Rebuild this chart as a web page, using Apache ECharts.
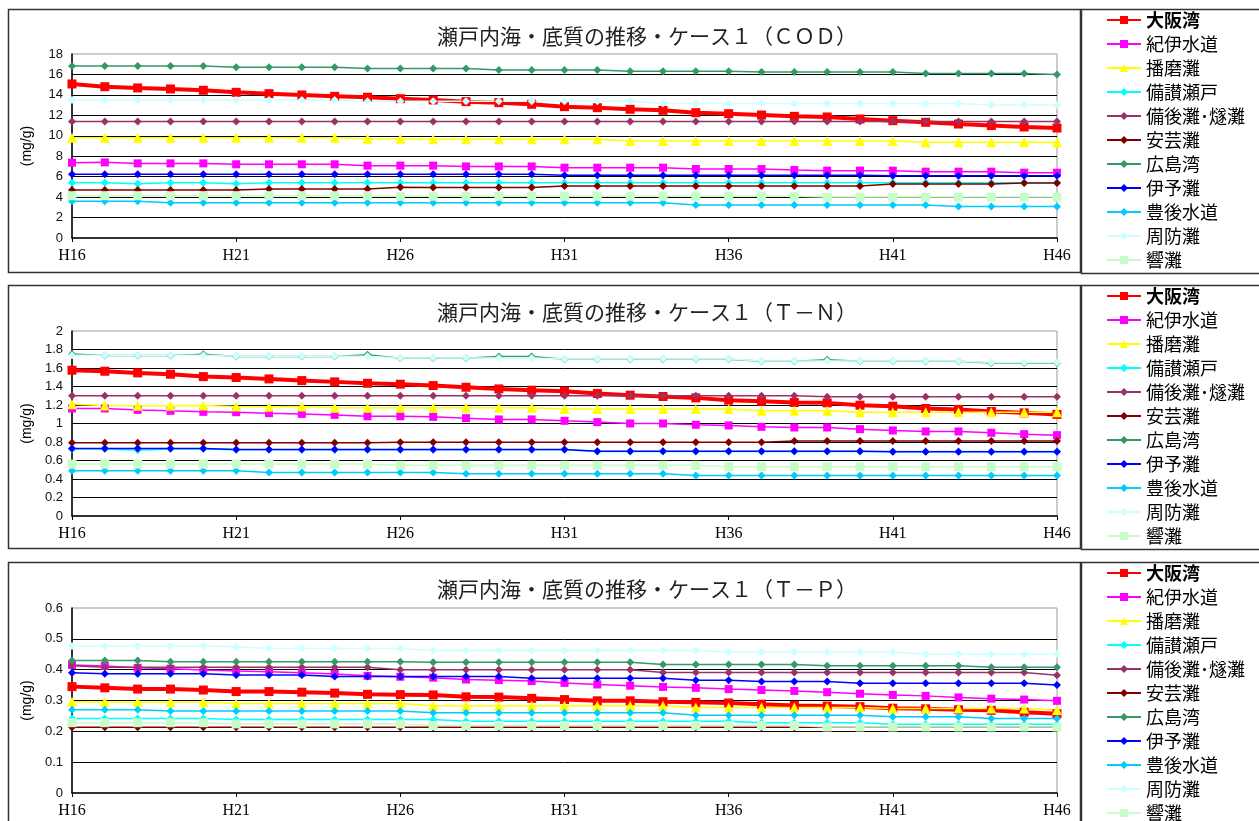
<!DOCTYPE html>
<html>
<head>
<meta charset="utf-8">
<script src="https://cdn.jsdelivr.net/npm/echarts@6/dist/echarts.min.js"></script>
<style>
html, body { margin: 0; padding: 0; background: #fff; }
#chart { width: 1259px; height: 821px; }
</style>
</head>
<body>
<div id="chart"></div>
<script>
// categories (H16 .. H46)
const years = ['H16','H17','H18','H19','H20','H21','H22','H23','H24','H25','H26','H27','H28','H29','H30','H31',
  'H32','H33','H34','H35','H36','H37','H38','H39','H40','H41','H42','H43','H44','H45','H46']

const areaNames = ['大阪湾', '紀伊水道', '播磨灘', '備讃瀬戸', '備後灘･燧灘', '安芸灘', '広島湾', '伊予灘', '豊後水道', '周防灘', '響灘']

// COD (mg/g)
const codOsaka = [15.07,14.8,14.68,14.58,14.45,14.25,14.12,13.99,13.86,13.77,13.63,13.5,13.34,13.24,13.08,12.85,12.75,12.59,12.49,12.26,12.16,12.03,11.9,11.84,11.64,11.48,11.32,11.15,11.0,10.86,10.76]
const codKii = [7.37,7.4,7.3,7.3,7.3,7.21,7.21,7.21,7.21,7.08,7.08,7.08,7.0,7.0,7.0,6.88,6.88,6.88,6.88,6.75,6.75,6.75,6.65,6.59,6.59,6.59,6.49,6.49,6.49,6.39,6.39]
const codHarima = [9.8,9.8,9.8,9.8,9.8,9.8,9.8,9.8,9.8,9.72,9.72,9.66,9.66,9.66,9.66,9.66,9.66,9.48,9.48,9.48,9.48,9.48,9.48,9.48,9.48,9.48,9.36,9.36,9.36,9.36,9.36]
const codBisan = [5.4,5.4,5.3,5.4,5.4,5.3,5.4,5.4,5.4,5.4,5.4,5.4,5.4,5.4,5.4,5.4,5.4,5.4,5.4,5.4,5.4,5.4,5.4,5.4,5.4,5.4,5.4,5.4,5.4,5.4,5.4]
const codBingo = [11.4,11.4,11.4,11.4,11.4,11.4,11.4,11.4,11.4,11.4,11.4,11.4,11.4,11.4,11.4,11.4,11.4,11.4,11.4,11.4,11.4,11.4,11.4,11.4,11.4,11.4,11.4,11.4,11.4,11.4,11.4]
const codAki = [4.7,4.7,4.7,4.7,4.7,4.7,4.79,4.79,4.79,4.79,4.96,4.93,4.93,4.93,4.93,5.09,5.09,5.09,5.09,5.09,5.09,5.09,5.09,5.09,5.09,5.28,5.28,5.28,5.28,5.38,5.38]
const codHiroshima = [16.83,16.83,16.83,16.83,16.83,16.7,16.7,16.7,16.7,16.57,16.57,16.57,16.57,16.44,16.44,16.44,16.44,16.31,16.31,16.31,16.31,16.24,16.24,16.24,16.24,16.24,16.1,16.1,16.1,16.1,16.0]
const codIyo = [6.23,6.23,6.23,6.23,6.23,6.23,6.23,6.23,6.23,6.23,6.23,6.23,6.23,6.23,6.23,6.15,6.15,6.15,6.15,6.15,6.15,6.15,6.15,6.15,6.15,6.1,6.1,6.1,6.1,6.1,6.1]
const codBungo = [3.59,3.59,3.59,3.45,3.45,3.45,3.45,3.45,3.45,3.45,3.45,3.45,3.45,3.45,3.45,3.45,3.45,3.45,3.45,3.22,3.22,3.22,3.22,3.22,3.22,3.22,3.22,3.07,3.07,3.07,3.07]
const codSuo = [13.5,13.5,13.5,13.5,13.5,13.5,13.5,13.5,13.5,13.37,13.37,13.37,13.37,13.37,13.37,13.37,13.37,13.37,13.15,13.15,13.15,13.15,13.15,13.15,13.15,13.15,13.15,13.15,13.02,13.02,13.02]
const codHibiki = [4.14,4.14,4.14,4.14,4.14,4.14,4.14,4.14,4.14,4.14,4.08,4.08,4.08,4.08,4.08,4.08,4.08,4.08,4.08,4.08,4.08,4.08,4.08,4.0,4.0,4.0,4.0,4.0,4.0,4.0,4.0]

// T-N (mg/g)
const tnOsaka = [1.576,1.565,1.547,1.533,1.507,1.497,1.482,1.464,1.45,1.435,1.425,1.41,1.392,1.374,1.36,1.349,1.324,1.306,1.292,1.277,1.252,1.241,1.227,1.223,1.198,1.187,1.162,1.152,1.13,1.115,1.098]
const tnKii = [1.162,1.162,1.147,1.137,1.126,1.122,1.112,1.104,1.093,1.079,1.079,1.072,1.058,1.044,1.044,1.029,1.015,1.0,1.0,0.986,0.979,0.964,0.957,0.957,0.939,0.925,0.914,0.914,0.9,0.885,0.874]
const tnHarima = [1.209,1.195,1.191,1.191,1.195,1.184,1.18,1.184,1.169,1.169,1.169,1.169,1.169,1.169,1.169,1.158,1.158,1.158,1.158,1.158,1.158,1.137,1.137,1.137,1.122,1.122,1.122,1.122,1.122,1.122,1.122]
const tnBisan = [0.725,0.725,0.712,0.725,0.725,0.715,0.715,0.715,0.715,0.715,0.715,0.715,0.715,0.715,0.715,0.715,0.697,0.697,0.697,0.697,0.697,0.697,0.697,0.697,0.697,0.697,0.697,0.697,0.697,0.697,0.697]
const tnBingo = [1.3,1.3,1.3,1.3,1.3,1.3,1.3,1.3,1.3,1.3,1.3,1.3,1.3,1.3,1.3,1.3,1.3,1.3,1.3,1.3,1.3,1.3,1.3,1.29,1.29,1.29,1.29,1.29,1.29,1.29,1.29]
const tnAki = [0.791,0.791,0.791,0.791,0.791,0.791,0.791,0.791,0.791,0.791,0.797,0.797,0.797,0.797,0.797,0.797,0.797,0.797,0.797,0.797,0.797,0.797,0.81,0.81,0.81,0.81,0.81,0.81,0.81,0.81,0.81]
const tnHiroshima = [1.752,1.734,1.734,1.734,1.748,1.723,1.723,1.723,1.723,1.742,1.705,1.705,1.705,1.725,1.725,1.694,1.694,1.694,1.694,1.694,1.694,1.672,1.672,1.69,1.672,1.672,1.672,1.672,1.655,1.655,1.655]
const tnIyo = [0.73,0.73,0.73,0.73,0.73,0.72,0.72,0.72,0.72,0.72,0.72,0.72,0.72,0.72,0.72,0.72,0.701,0.701,0.701,0.701,0.701,0.701,0.701,0.701,0.701,0.694,0.694,0.694,0.694,0.694,0.694]
const tnBungo = [0.489,0.489,0.489,0.489,0.489,0.489,0.47,0.47,0.47,0.47,0.47,0.47,0.457,0.457,0.457,0.457,0.457,0.457,0.457,0.439,0.439,0.439,0.439,0.439,0.439,0.439,0.439,0.439,0.439,0.439,0.439]
const tnSuo = [1.738,1.738,1.738,1.738,1.738,1.727,1.727,1.727,1.727,1.727,1.709,1.709,1.709,1.709,1.709,1.698,1.698,1.698,1.698,1.698,1.698,1.676,1.676,1.676,1.676,1.676,1.676,1.676,1.659,1.659,1.659]
const tnHibiki = [0.561,0.561,0.561,0.561,0.561,0.561,0.561,0.561,0.561,0.561,0.548,0.548,0.548,0.548,0.548,0.548,0.548,0.548,0.548,0.548,0.532,0.532,0.532,0.532,0.532,0.532,0.532,0.532,0.532,0.532,0.532]

// T-P (mg/g)
const tpOsaka = [0.345,0.341,0.337,0.337,0.334,0.329,0.329,0.327,0.324,0.32,0.319,0.318,0.312,0.311,0.307,0.303,0.299,0.299,0.296,0.294,0.292,0.288,0.284,0.282,0.28,0.275,0.273,0.27,0.268,0.262,0.257]
const tpKii = [0.415,0.412,0.406,0.403,0.399,0.396,0.393,0.39,0.386,0.38,0.377,0.374,0.368,0.366,0.363,0.357,0.352,0.348,0.344,0.341,0.337,0.334,0.331,0.327,0.322,0.318,0.315,0.31,0.306,0.303,0.299]
const tpHarima = [0.296,0.295,0.295,0.295,0.295,0.29,0.29,0.29,0.29,0.29,0.29,0.283,0.283,0.283,0.283,0.283,0.283,0.283,0.283,0.277,0.277,0.277,0.277,0.277,0.277,0.274,0.274,0.274,0.274,0.274,0.269]
const tpBisan = [0.242,0.242,0.242,0.242,0.242,0.238,0.238,0.238,0.238,0.238,0.238,0.238,0.233,0.233,0.233,0.233,0.233,0.233,0.233,0.233,0.233,0.228,0.228,0.228,0.228,0.223,0.223,0.223,0.223,0.223,0.223]
const tpBingo = [0.413,0.408,0.408,0.408,0.408,0.408,0.408,0.408,0.408,0.408,0.4,0.4,0.4,0.4,0.4,0.4,0.4,0.4,0.391,0.391,0.391,0.391,0.391,0.391,0.391,0.391,0.391,0.391,0.391,0.391,0.382]
const tpAki = [0.213,0.213,0.213,0.213,0.213,0.213,0.213,0.213,0.213,0.213,0.213,0.213,0.213,0.213,0.213,0.213,0.213,0.213,0.213,0.213,0.213,0.213,0.213,0.213,0.213,0.213,0.213,0.213,0.213,0.213,0.213]
const tpHiroshima = [0.43,0.43,0.43,0.426,0.426,0.426,0.426,0.426,0.426,0.426,0.426,0.424,0.424,0.424,0.424,0.424,0.424,0.424,0.417,0.417,0.417,0.417,0.417,0.413,0.413,0.413,0.413,0.413,0.408,0.408,0.408]
const tpIyo = [0.39,0.387,0.387,0.387,0.387,0.383,0.383,0.383,0.378,0.378,0.378,0.378,0.378,0.378,0.372,0.372,0.372,0.372,0.372,0.366,0.366,0.362,0.362,0.362,0.356,0.356,0.356,0.356,0.356,0.356,0.35]
const tpBungo = [0.27,0.27,0.27,0.266,0.266,0.266,0.266,0.266,0.266,0.266,0.266,0.26,0.26,0.26,0.26,0.26,0.26,0.26,0.26,0.252,0.252,0.252,0.252,0.252,0.252,0.247,0.247,0.247,0.242,0.242,0.242]
const tpSuo = [0.477,0.477,0.477,0.477,0.477,0.474,0.469,0.469,0.469,0.469,0.469,0.462,0.462,0.462,0.462,0.462,0.462,0.462,0.462,0.462,0.457,0.457,0.457,0.457,0.457,0.457,0.451,0.451,0.451,0.451,0.451]
const tpHibiki = [0.228,0.228,0.228,0.228,0.228,0.224,0.224,0.224,0.224,0.224,0.224,0.219,0.219,0.219,0.219,0.219,0.219,0.219,0.219,0.219,0.219,0.219,0.219,0.214,0.214,0.214,0.214,0.214,0.214,0.214,0.214]

const codData = [codOsaka, codKii, codHarima, codBisan, codBingo, codAki, codHiroshima, codIyo, codBungo, codSuo, codHibiki]
const tnData = [tnOsaka, tnKii, tnHarima, tnBisan, tnBingo, tnAki, tnHiroshima, tnIyo, tnBungo, tnSuo, tnHibiki]
const tpData = [tpOsaka, tpKii, tpHarima, tpBisan, tpBingo, tpAki, tpHiroshima, tpIyo, tpBungo, tpSuo, tpHibiki]

// excel-like series styles
const seriesStyles = [
  { color: '#ff0000', symbol: 'rect', size: 9, width: 4 },
  { color: '#ff00ff', symbol: 'rect', size: 8, width: 1.5 },
  { color: '#ffff00', symbol: 'triangle', size: 10, width: 1.5 },
  { color: '#00ffff', symbol: 'diamond', size: 8, width: 1.5 },
  { color: '#993366', symbol: 'diamond', size: 8, width: 1.5 },
  { color: '#800000', symbol: 'diamond', size: 8, width: 1.5 },
  { color: '#339966', symbol: 'diamond', size: 8, width: 1.5 },
  { color: '#0000ff', symbol: 'diamond', size: 8, width: 1.5 },
  { color: '#00ccff', symbol: 'diamond', size: 8, width: 1.5 },
  { color: '#ccffff', symbol: 'diamond', size: 8, width: 1.5 },
  { color: '#c8fcc8', symbol: 'rect', size: 9, width: 1.5 }
]

// frame top, plot top/height per panel
const panels = [
  { title: '瀬戸内海・底質の推移・ケース１（ＣＯＤ）', data: codData, max: 18, interval: 2, top: 9, plotTop: 54, plotH: 184 },
  { title: '瀬戸内海・底質の推移・ケース１（Ｔ－Ｎ）', data: tnData, max: 2, interval: 0.2, top: 285, plotTop: 331, plotH: 185 },
  { title: '瀬戸内海・底質の推移・ケース１（Ｔ－Ｐ）', data: tpData, max: 0.6, interval: 0.1, top: 562, plotTop: 608, plotH: 185 }
]

const chart = echarts.init(document.getElementById('chart'))
const option = {
  animation: false,
  backgroundColor: '#fff',
  title: [], grid: [], xAxis: [], yAxis: [], legend: [], series: [], graphic: []
}

panels.forEach((p, i) => {
  option.title.push({
    text: p.title, left: 437, top: p.top + 17, padding: 0,
    textStyle: { fontSize: 21, fontWeight: 'normal', color: '#222', fontFamily: 'Noto Sans CJK JP' }
  })
  option.grid.push({
    left: 72, top: p.plotTop, width: 985, height: p.plotH,
    show: true, borderColor: '#9a9a9a', borderWidth: 1
  })
  option.xAxis.push({
    type: 'category', gridIndex: i, data: years, boundaryGap: false,
    axisLine: { lineStyle: { color: '#000', width: 1.5 } },
    axisTick: { interval: 4, length: 4, lineStyle: { color: '#000' } },
    axisLabel: { interval: 4, margin: 10, color: '#000', fontSize: 16, fontFamily: 'Liberation Serif' },
    splitLine: { show: false }
  })
  option.yAxis.push({
    type: 'value', gridIndex: i, min: 0, max: p.max, interval: p.interval,
    name: '(mg/g)', nameLocation: 'middle', nameGap: 38,
    nameTextStyle: { fontSize: 14, color: '#000', fontFamily: 'Liberation Sans' },
    axisLine: { show: true, lineStyle: { color: '#000', width: 1.5 } },
    axisTick: { show: false },
    axisLabel: { margin: 9, color: '#111', fontSize: 13, fontFamily: 'Liberation Sans' },
    splitLine: { show: true, showMinLine: false, showMaxLine: false, lineStyle: { color: '#000', width: 1 } }
  })
  option.legend.push({
    orient: 'vertical', left: 1106, top: p.top + 2, height: 320, padding: 0,
    itemWidth: 34, itemHeight: 10, itemGap: 6, selectedMode: false,
    data: areaNames,
    formatter: n => n === '大阪湾' ? '{b|' + n + '}' : n,
    textStyle: {
      fontSize: 18, lineHeight: 17, color: '#000', fontFamily: 'Noto Sans CJK JP',
      rich: { b: { fontSize: 18, lineHeight: 17, fontWeight: 'bold', color: '#000', fontFamily: 'Noto Sans CJK JP' } }
    }
  })
  p.data.forEach((vals, k) => {
    const s = seriesStyles[k]
    option.series.push({
      name: areaNames[k], type: 'line', xAxisIndex: i, yAxisIndex: i,
      data: vals,
      symbol: s.symbol, symbolSize: s.size,
      lineStyle: { color: s.color, width: s.width },
      itemStyle: { color: s.color },
      emphasis: { disabled: true }
    })
  })
  // panel frames (chart box + legend box)
  const h = i === 2 ? 300 : 263
  option.graphic.push(
    { type: 'rect', silent: true, shape: { x: 8.5, y: p.top + 0.5, width: 1072, height: h }, style: { fill: 'none', stroke: '#333', lineWidth: 1.5 } },
    { type: 'rect', silent: true, shape: { x: 1081.5, y: p.top + 0.5, width: 185, height: h + 1 }, style: { fill: 'none', stroke: '#333', lineWidth: 1.5 } }
  )
})

chart.setOption(option)
</script>
</body>
</html>
